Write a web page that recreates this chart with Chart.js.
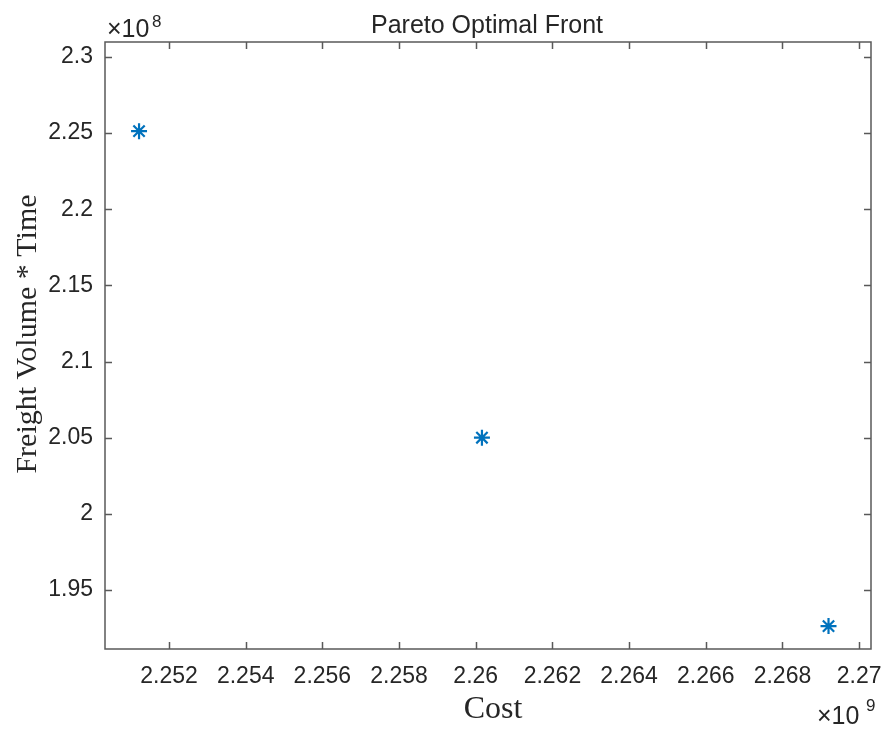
<!DOCTYPE html>
<html>
<head>
<meta charset="utf-8">
<script src="https://cdn.jsdelivr.net/npm/chart.js"></script>
<style>
  html, body { margin: 0; padding: 0; background: #fff; }
  #wrap { width: 888px; height: 729px; }
</style>
</head>
<body>
<div id="wrap"><canvas id="paretoChart" width="888" height="729"></canvas></div>
<script>
// data
const costValues = [2.251218e9, 2.260162e9, 2.269202e9];
const freightTimeValues = [2.2513e8, 2.0500e8, 1.9263e8];
const xTicks = [2.252, 2.254, 2.256, 2.258, 2.26, 2.262, 2.264, 2.266, 2.268, 2.27];
const yTicks = [1.95, 2, 2.05, 2.1, 2.15, 2.2, 2.25, 2.3];

const textCol = '#262626';
const axisCol = '#595959';
const sans = '"Liberation Sans", Arial, sans-serif';
const serif = '"Liberation Serif", "Times New Roman", serif';

// MATLAB-ish box with inward ticks, exponent labels, title and axis labels
const matlabAxes = {
  id: 'matlabAxes',
  afterDraw(chart) {
    const c = chart.ctx, a = chart.chartArea;
    const xs = chart.scales.x, ys = chart.scales.y;
    c.save();
    c.strokeStyle = axisCol;
    c.lineWidth = 1.5;
    c.strokeRect(a.left, a.top, a.right - a.left, a.bottom - a.top);
    c.beginPath();
    xTicks.forEach(t => {
      const px = Math.round(xs.getPixelForValue(t * 1e9)) + 0.5;
      c.moveTo(px, a.bottom); c.lineTo(px, a.bottom - 7);
      c.moveTo(px, a.top); c.lineTo(px, a.top + 7);
    });
    yTicks.forEach(t => {
      const py = Math.round(ys.getPixelForValue(t * 1e8)) + 0.5;
      c.moveTo(a.left, py); c.lineTo(a.left + 7, py);
      c.moveTo(a.right, py); c.lineTo(a.right - 7, py);
    });
    c.stroke();

    c.fillStyle = textCol;
    c.textBaseline = 'alphabetic';
    // title
    c.font = '25px ' + sans;
    c.textAlign = 'center';
    c.fillText('Pareto Optimal Front', 487, 33);

    // exponents
    c.textAlign = 'left';
    c.font = '25px ' + sans;
    c.fillText('\u00d710', 107, 37);
    c.font = '17px ' + sans;
    c.fillText('8', 152, 27);
    c.font = '25px ' + sans;
    c.fillText('\u00d710', 817, 724);
    c.font = '17px ' + sans;
    c.fillText('9', 866, 711);

    // axis labels
    c.textAlign = 'center';
    c.font = '32px ' + serif;
    c.fillText('Cost', 493, 718);
    c.save();
    c.translate(36, 334);
    c.rotate(-Math.PI / 2);
    c.font = '30px ' + serif;
    c.fillText('Freight Volume * Time', 0, 0);
    c.restore();
    c.restore();
  }
};

new Chart(document.getElementById('paretoChart'), {
  type: 'scatter',
  data: {
    datasets: [{
      label: 'Pareto front',
      data: costValues.map((v, i) => ({ x: v, y: freightTimeValues[i] })),
      pointStyle: 'star',
      radius: 8,
      hoverRadius: 8,
      borderWidth: 2.2,
      borderColor: '#0072BD',
      backgroundColor: '#0072BD'
    }]
  },
  options: {
    responsive: false,
    animation: false,
    layout: { padding: { top: 42, right: 17, left: 0, bottom: 0 } },
    plugins: { legend: { display: false }, tooltip: { enabled: false } },
    scales: {
      x: {
        type: 'linear',
        min: 2.25033e9,
        max: 2.27031e9,
        afterBuildTicks: s => { s.ticks = xTicks.map(t => ({ value: t * 1e9 })); },
        afterFit: s => { s.height = 80; s.paddingLeft = 0; s.paddingRight = 0; },
        grid: { display: false, drawTicks: false },
        border: { display: false },
        ticks: {
          padding: 14,
          color: textCol,
          maxRotation: 0,
          autoSkip: false,
          font: { family: sans, size: 23 },
          callback: v => String(+(v / 1e9).toFixed(3))
        }
      },
      y: {
        type: 'linear',
        min: 1.91124e8,
        max: 2.30986e8,
        afterBuildTicks: s => { s.ticks = yTicks.map(t => ({ value: t * 1e8 })); },
        afterFit: s => { s.width = 105; s.paddingTop = 0; s.paddingBottom = 0; },
        grid: { display: false, drawTicks: false },
        border: { display: false },
        ticks: {
          padding: 12,
          color: textCol,
          autoSkip: false,
          font: { family: sans, size: 23 },
          callback: v => String(+(v / 1e8).toFixed(2))
        }
      }
    }
  },
  plugins: [matlabAxes]
});
</script>
</body>
</html>
